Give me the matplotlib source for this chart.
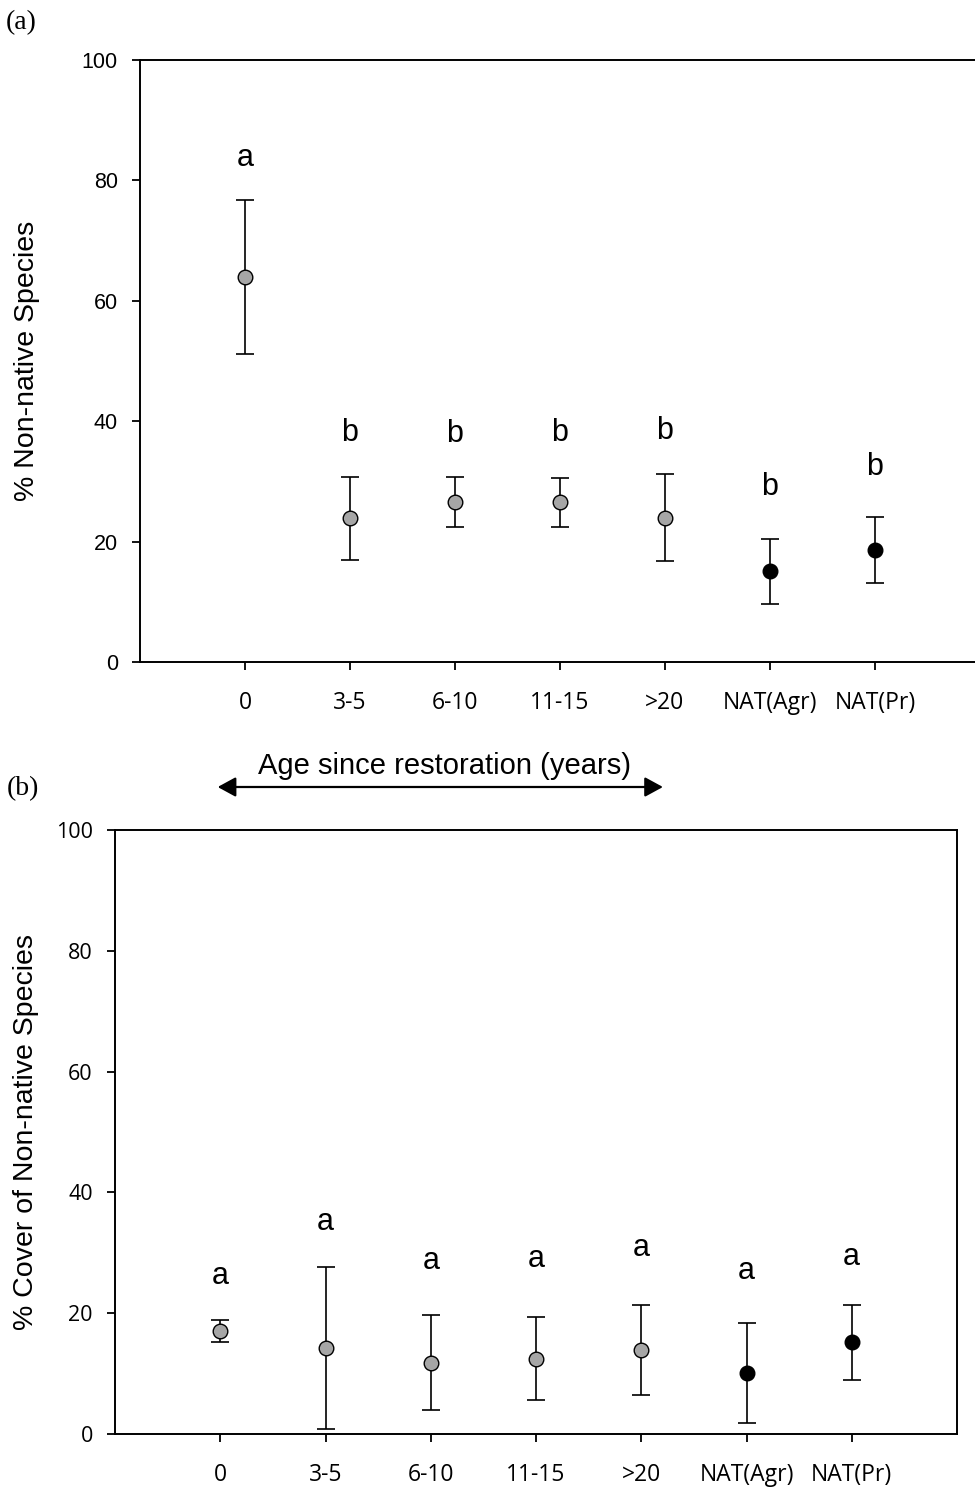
import numpy as np
import matplotlib
matplotlib.use('Agg')
import matplotlib.pyplot as plt
from matplotlib.transforms import blended_transform_factory

# Group labels on the x axis
groups = ['0', '3-5', '6-10', '11-15', '>20', 'NAT(Agr)', 'NAT(Pr)']
restored = [True, True, True, True, True, False, False]

# Panel (a): % non-native species (mean +/- error)
a_mean = [64.0, 23.9, 26.6, 26.5, 24.0, 15.1, 18.6]
a_err = [12.8, 6.9, 4.1, 4.0, 7.2, 5.4, 5.5]
a_letters = ['a', 'b', 'b', 'b', 'b', 'b', 'b']
a_letter_y = [82.4, 36.7, 36.6, 36.7, 37.0, 27.7, 31.1]

# Panel (b): % cover of non-native species
b_mean = [17.1, 14.2, 11.8, 12.5, 13.9, 10.1, 15.2]
b_err = [1.85, 13.4, 7.9, 6.9, 7.4, 8.2, 6.2]
b_letters = ['a', 'a', 'a', 'a', 'a', 'a', 'a']
b_letter_y = [24.8, 33.8, 27.3, 27.6, 29.4, 25.6, 28.0]

yticks = [0, 20, 40, 60, 80, 100]

W, H = 975, 1490
fig = plt.figure(figsize=(W / 100, H / 100), dpi=100)

ax_a = fig.add_axes([140 / W, 1 - 662 / H, 840 / W, 602 / H])
ax_b = fig.add_axes([115 / W, 1 - 1434 / H, 842 / W, 604 / H])


def draw_panel(ax, means, errs, letters, letter_y, ylabel, ytick_font, label_x):
    x = np.arange(len(groups))
    ax.errorbar(x, means, yerr=errs, fmt='none', ecolor='black',
                elinewidth=1.2, capsize=6.5, capthick=1.2, zorder=2)
    for xi, m, r in zip(x, means, restored):
        ax.plot(xi, m, 'o', ms=10.5, mfc='#a6a6a6' if r else 'black',
                mec='black', mew=1.0, zorder=3)
    for xi, lt, ly in zip(x, letters, letter_y):
        ax.text(xi, ly, lt, ha='center', va='baseline', fontsize=22,
                family='Liberation Sans')
    ax.set_xlim(-1, 7)
    ax.set_ylim(0, 100)
    ax.set_xticks(x)
    ax.set_xticklabels(groups, family='Open Sans', fontsize=16.5)
    ax.set_yticks(yticks)
    ax.set_yticklabels([str(t) for t in yticks], family=ytick_font,
                       fontsize=15.5)
    ax.tick_params(axis='both', direction='out', length=6, width=1.3,
                   color='black')
    ax.tick_params(axis='y', pad=10)
    ax.tick_params(axis='x', pad=15)
    for s in ax.spines.values():
        s.set_linewidth(1.4)
    ax.set_ylabel(ylabel, family='Liberation Sans', fontsize=20.5)
    ax.yaxis.set_label_coords(label_x, 0.5)


draw_panel(ax_a, a_mean, a_err, a_letters, a_letter_y,
           '% Non-native Species', 'Liberation Sans', -100 / 840)
draw_panel(ax_b, b_mean, b_err, b_letters, b_letter_y,
           '% Cover of Non-native Species', 'Open Sans', -76 / 842)
ax_a.spines['right'].set_visible(False)

# arrow and caption between the panels
ax_a.annotate('', xy=(3.98, 1 - 787 / H), xytext=(-0.26, 1 - 787 / H),
              xycoords=('data', 'figure fraction'),
              arrowprops=dict(arrowstyle='<|-|>,head_length=0.55,head_width=0.3',
                              color='black', lw=1.6, mutation_scale=20,
                              shrinkA=0, shrinkB=0),
              annotation_clip=False)
ax_a.text(1.9, 1 - 774 / H, 'Age since restoration (years)', ha='center',
          va='baseline', fontsize=21, family='Liberation Sans',
          transform=blended_transform_factory(ax_a.transData, fig.transFigure))

fig.text(6 / W, 1 - 29 / H, '(a)', family='Liberation Serif', fontsize=20,
         va='baseline')
fig.text(7 / W, 1 - 795 / H, '(b)', family='Liberation Serif', fontsize=20,
         va='baseline')

fig.savefig('out.png', dpi=100)
